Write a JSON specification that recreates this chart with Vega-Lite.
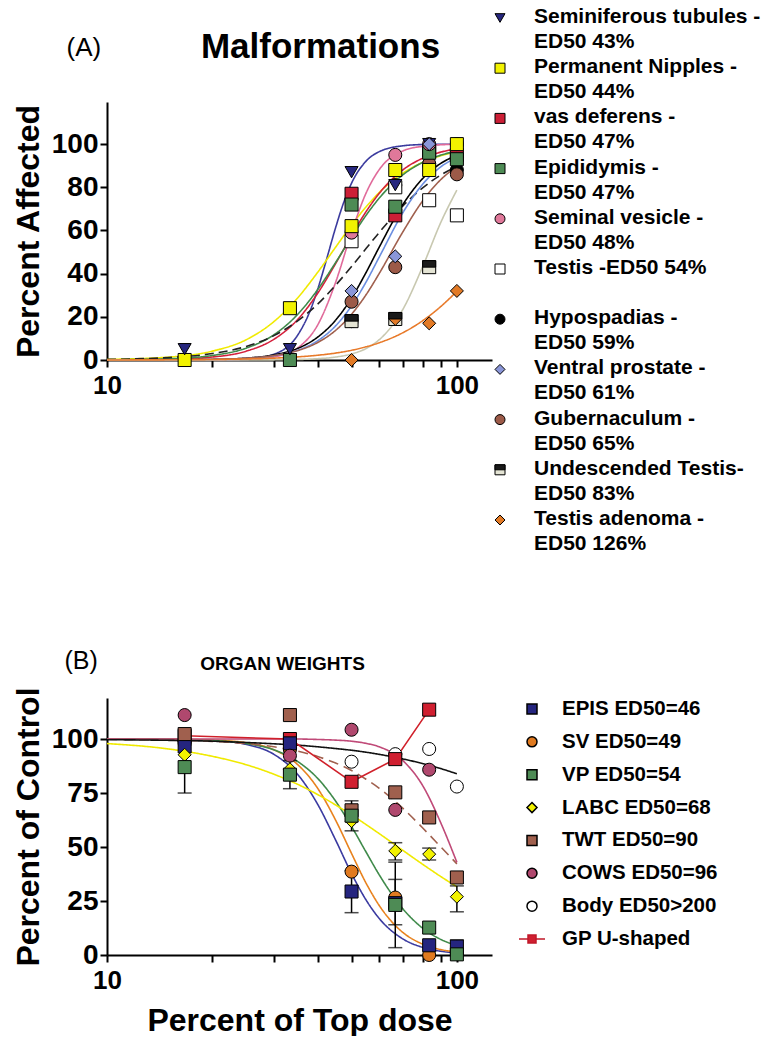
{
  "$schema": "https://vega.github.io/schema/vega-lite/v6.json",
  "background": "white",
  "padding": {"left": 12, "top": 6, "right": 0, "bottom": 0},
  "spacing": 94,
  "resolve": {
    "scale": {"shape": "independent", "fill": "independent", "stroke": "independent", "strokeDash": "independent", "x": "independent", "y": "independent"}
  },
  "config": {
    "view": {"stroke": null},
    "font": "Liberation Sans",
    "axis": {"domainColor": "black", "domainWidth": 2, "tickColor": "black", "tickWidth": 2, "tickSize": 7, "labelFont": "Liberation Sans", "labelFontWeight": "bold", "labelColor": "black", "titleFont": "Liberation Sans", "titleFontWeight": "bold", "titleColor": "black", "grid": false, "labelFlush": false, "labelOverlap": false}
  },
  "datasets": {
    "legA": [
      {"s": "Seminiferous tubules - ED50 43%", "label": "Seminiferous tubules -\nED50 43%"},
      {"s": "Permanent Nipples - ED50 44%", "label": "Permanent Nipples -\nED50 44%"},
      {"s": "vas deferens - ED50 47%", "label": "vas deferens -\nED50 47%"},
      {"s": "Epididymis - ED50 47%", "label": "Epididymis -\nED50 47%"},
      {"s": "Seminal vesicle - ED50 48%", "label": "Seminal vesicle -\nED50 48%"},
      {"s": "Testis -ED50 54%", "label": "Testis -ED50 54%"},
      {"s": "Hypospadias - ED50 59%", "label": "Hypospadias -\nED50 59%"},
      {"s": "Ventral prostate - ED50 61%", "label": "Ventral prostate -\nED50 61%"},
      {"s": "Gubernaculum - ED50 65%", "label": "Gubernaculum -\nED50 65%"},
      {"s": "Undescended Testis-ED50 83%", "label": "Undescended Testis-\nED50 83%"},
      {"s": "Testis adenoma - ED50 126%", "label": "Testis adenoma -\nED50 126%"}
    ],
    "legB": [
      {"s": "EPIS ED50=46"}, {"s": "SV ED50=49"}, {"s": "VP ED50=54"}, {"s": "LABC ED50=68"}, {"s": "TWT ED50=90"}, {"s": "COWS ED50=96"}, {"s": "Body ED50>200"}, {"s": "GP U-shaped"}
    ],
    "ptsA": [
      {"s": "Hypospadias - ED50 59%", "x": 50, "y": 18},
      {"s": "Hypospadias - ED50 59%", "x": 66.67, "y": 81},
      {"s": "Hypospadias - ED50 59%", "x": 83.33, "y": 90},
      {"s": "Hypospadias - ED50 59%", "x": 100, "y": 88},
      {"s": "Undescended Testis-ED50 83%", "x": 50, "y": 18},
      {"s": "Undescended Testis-ED50 83%", "x": 66.67, "y": 19},
      {"s": "Undescended Testis-ED50 83%", "x": 83.33, "y": 43},
      {"s": "Testis adenoma - ED50 126%", "x": 50, "y": 0},
      {"s": "Testis adenoma - ED50 126%", "x": 66.67, "y": 19},
      {"s": "Testis adenoma - ED50 126%", "x": 83.33, "y": 17},
      {"s": "Testis adenoma - ED50 126%", "x": 100, "y": 32},
      {"s": "Gubernaculum - ED50 65%", "x": 50, "y": 27},
      {"s": "Gubernaculum - ED50 65%", "x": 66.67, "y": 43},
      {"s": "Gubernaculum - ED50 65%", "x": 83.33, "y": 91},
      {"s": "Gubernaculum - ED50 65%", "x": 100, "y": 86},
      {"s": "Ventral prostate - ED50 61%", "x": 50, "y": 32},
      {"s": "Ventral prostate - ED50 61%", "x": 66.67, "y": 48},
      {"s": "Ventral prostate - ED50 61%", "x": 100, "y": 94},
      {"s": "Testis -ED50 54%", "x": 50, "y": 55},
      {"s": "Testis -ED50 54%", "x": 66.67, "y": 80},
      {"s": "Testis -ED50 54%", "x": 83.33, "y": 74},
      {"s": "Testis -ED50 54%", "x": 100, "y": 67},
      {"s": "vas deferens - ED50 47%", "x": 50, "y": 77},
      {"s": "vas deferens - ED50 47%", "x": 66.67, "y": 67},
      {"s": "vas deferens - ED50 47%", "x": 83.33, "y": 97},
      {"s": "vas deferens - ED50 47%", "x": 100, "y": 95},
      {"s": "Epididymis - ED50 47%", "x": 33.33, "y": 0},
      {"s": "Epididymis - ED50 47%", "x": 50, "y": 72},
      {"s": "Epididymis - ED50 47%", "x": 66.67, "y": 71},
      {"s": "Epididymis - ED50 47%", "x": 83.33, "y": 96},
      {"s": "Epididymis - ED50 47%", "x": 100, "y": 93},
      {"s": "Seminal vesicle - ED50 48%", "x": 50, "y": 59},
      {"s": "Seminal vesicle - ED50 48%", "x": 66.67, "y": 95},
      {"s": "Seminal vesicle - ED50 48%", "x": 83.33, "y": 100},
      {"s": "Seminal vesicle - ED50 48%", "x": 100, "y": 100},
      {"s": "Permanent Nipples - ED50 44%", "x": 16.67, "y": 0},
      {"s": "Permanent Nipples - ED50 44%", "x": 33.33, "y": 24},
      {"s": "Permanent Nipples - ED50 44%", "x": 50, "y": 62},
      {"s": "Permanent Nipples - ED50 44%", "x": 66.67, "y": 88},
      {"s": "Permanent Nipples - ED50 44%", "x": 83.33, "y": 88},
      {"s": "Permanent Nipples - ED50 44%", "x": 100, "y": 100},
      {"s": "Seminiferous tubules - ED50 43%", "x": 16.67, "y": 5},
      {"s": "Seminiferous tubules - ED50 43%", "x": 33.33, "y": 5},
      {"s": "Seminiferous tubules - ED50 43%", "x": 50, "y": 87},
      {"s": "Seminiferous tubules - ED50 43%", "x": 66.67, "y": 81},
      {"s": "Seminiferous tubules - ED50 43%", "x": 83.33, "y": 100},
      {"s": "Ventral prostate - ED50 61%", "x": 83.33, "y": 100}
    ],
    "curA": [
      {"c": "S1", "x": 10, "y": 0}, {"c": "S1", "x": 15, "y": 0}, {"c": "S1", "x": 20, "y": 0.05}, {"c": "S1", "x": 25, "y": 0.44}, {"c": "S1", "x": 30, "y": 2.7}, {"c": "S1", "x": 35, "y": 11.3}, {"c": "S1", "x": 38, "y": 22.5}, {"c": "S1", "x": 40, "y": 32.7}, {"c": "S1", "x": 42, "y": 44.2}, {"c": "S1", "x": 45, "y": 61.2}, {"c": "S1", "x": 47, "y": 70.9}, {"c": "S1", "x": 50, "y": 81.9}, {"c": "S1", "x": 55, "y": 92.1}, {"c": "S1", "x": 60, "y": 96.5}, {"c": "S1", "x": 70, "y": 99.2}, {"c": "S1", "x": 80, "y": 99.8}, {"c": "S1", "x": 90, "y": 99.9}, {"c": "S1", "x": 100, "y": 100},
      {"c": "S2", "x": 10, "y": 0.27}, {"c": "S2", "x": 15, "y": 1.33}, {"c": "S2", "x": 20, "y": 4.1}, {"c": "S2", "x": 25, "y": 9.4}, {"c": "S2", "x": 30, "y": 17.8}, {"c": "S2", "x": 35, "y": 28.6}, {"c": "S2", "x": 40, "y": 40.6}, {"c": "S2", "x": 45, "y": 52.2}, {"c": "S2", "x": 50, "y": 62.5}, {"c": "S2", "x": 55, "y": 70.9}, {"c": "S2", "x": 60, "y": 77.6}, {"c": "S2", "x": 70, "y": 86.5}, {"c": "S2", "x": 80, "y": 91.6}, {"c": "S2", "x": 90, "y": 94.6}, {"c": "S2", "x": 100, "y": 96.4},
      {"c": "S3", "x": 10, "y": 0.04}, {"c": "S3", "x": 15, "y": 0.33}, {"c": "S3", "x": 20, "y": 1.38}, {"c": "S3", "x": 25, "y": 4.1}, {"c": "S3", "x": 30, "y": 9.6}, {"c": "S3", "x": 35, "y": 18.6}, {"c": "S3", "x": 40, "y": 30.9}, {"c": "S3", "x": 45, "y": 44.6}, {"c": "S3", "x": 50, "y": 57.7}, {"c": "S3", "x": 55, "y": 68.7}, {"c": "S3", "x": 60, "y": 77.2}, {"c": "S3", "x": 70, "y": 88.0}, {"c": "S3", "x": 80, "y": 93.5}, {"c": "S3", "x": 90, "y": 96.3}, {"c": "S3", "x": 100, "y": 97.8},
      {"c": "S4", "x": 10, "y": 0.09}, {"c": "S4", "x": 15, "y": 0.58}, {"c": "S4", "x": 20, "y": 2.1}, {"c": "S4", "x": 25, "y": 5.5}, {"c": "S4", "x": 30, "y": 11.7}, {"c": "S4", "x": 35, "y": 21.0}, {"c": "S4", "x": 40, "y": 32.6}, {"c": "S4", "x": 45, "y": 45.1}, {"c": "S4", "x": 50, "y": 56.9}, {"c": "S4", "x": 55, "y": 67.0}, {"c": "S4", "x": 60, "y": 75.0}, {"c": "S4", "x": 70, "y": 85.7}, {"c": "S4", "x": 80, "y": 91.6}, {"c": "S4", "x": 90, "y": 94.9}, {"c": "S4", "x": 100, "y": 96.8},
      {"c": "S5", "x": 10, "y": 0}, {"c": "S5", "x": 15, "y": 0}, {"c": "S5", "x": 20, "y": 0.04}, {"c": "S5", "x": 25, "y": 0.28}, {"c": "S5", "x": 30, "y": 1.43}, {"c": "S5", "x": 35, "y": 5.5}, {"c": "S5", "x": 40, "y": 16.2}, {"c": "S5", "x": 45, "y": 35.9}, {"c": "S5", "x": 50, "y": 59.1}, {"c": "S5", "x": 55, "y": 77.3}, {"c": "S5", "x": 60, "y": 88.2}, {"c": "S5", "x": 70, "y": 96.8}, {"c": "S5", "x": 80, "y": 99.0}, {"c": "S5", "x": 90, "y": 99.7}, {"c": "S5", "x": 100, "y": 99.9},
      {"c": "S6", "x": 10, "y": 0.27}, {"c": "S6", "x": 15, "y": 1.12}, {"c": "S6", "x": 20, "y": 3.0}, {"c": "S6", "x": 25, "y": 6.3}, {"c": "S6", "x": 30, "y": 11.3}, {"c": "S6", "x": 35, "y": 18.0}, {"c": "S6", "x": 40, "y": 25.9}, {"c": "S6", "x": 45, "y": 34.6}, {"c": "S6", "x": 50, "y": 43.3}, {"c": "S6", "x": 55, "y": 51.6}, {"c": "S6", "x": 60, "y": 59.1}, {"c": "S6", "x": 70, "y": 71.3}, {"c": "S6", "x": 80, "y": 79.8}, {"c": "S6", "x": 90, "y": 85.7}, {"c": "S6", "x": 100, "y": 89.6},
      {"c": "S7", "x": 10, "y": 0}, {"c": "S7", "x": 15, "y": 0.05}, {"c": "S7", "x": 20, "y": 0.26}, {"c": "S7", "x": 25, "y": 0.88}, {"c": "S7", "x": 30, "y": 2.4}, {"c": "S7", "x": 35, "y": 5.3}, {"c": "S7", "x": 40, "y": 10.6}, {"c": "S7", "x": 45, "y": 18.4}, {"c": "S7", "x": 50, "y": 28.7}, {"c": "S7", "x": 55, "y": 40.5}, {"c": "S7", "x": 60, "y": 52.3}, {"c": "S7", "x": 70, "y": 71.9}, {"c": "S7", "x": 80, "y": 84.2}, {"c": "S7", "x": 90, "y": 91.1}, {"c": "S7", "x": 100, "y": 94.8},
      {"c": "S8", "x": 10, "y": 0}, {"c": "S8", "x": 15, "y": 0.04}, {"c": "S8", "x": 20, "y": 0.22}, {"c": "S8", "x": 25, "y": 0.74}, {"c": "S8", "x": 30, "y": 2.0}, {"c": "S8", "x": 35, "y": 4.5}, {"c": "S8", "x": 40, "y": 8.9}, {"c": "S8", "x": 45, "y": 15.8}, {"c": "S8", "x": 50, "y": 25.1}, {"c": "S8", "x": 55, "y": 36.1}, {"c": "S8", "x": 60, "y": 47.7}, {"c": "S8", "x": 70, "y": 68.1}, {"c": "S8", "x": 80, "y": 81.6}, {"c": "S8", "x": 90, "y": 89.5}, {"c": "S8", "x": 100, "y": 93.8},
      {"c": "S9", "x": 10, "y": 0}, {"c": "S9", "x": 15, "y": 0.07}, {"c": "S9", "x": 20, "y": 0.28}, {"c": "S9", "x": 25, "y": 0.83}, {"c": "S9", "x": 30, "y": 2.05}, {"c": "S9", "x": 35, "y": 4.3}, {"c": "S9", "x": 40, "y": 8.1}, {"c": "S9", "x": 45, "y": 13.7}, {"c": "S9", "x": 50, "y": 21.2}, {"c": "S9", "x": 55, "y": 30.2}, {"c": "S9", "x": 60, "y": 40.1}, {"c": "S9", "x": 70, "y": 59.2}, {"c": "S9", "x": 80, "y": 73.9}, {"c": "S9", "x": 90, "y": 83.6}, {"c": "S9", "x": 100, "y": 89.6},
      {"c": "S10", "x": 10, "y": 0}, {"c": "S10", "x": 15, "y": 0}, {"c": "S10", "x": 20, "y": 0}, {"c": "S10", "x": 25, "y": 0}, {"c": "S10", "x": 30, "y": 0.08}, {"c": "S10", "x": 35, "y": 0.24}, {"c": "S10", "x": 40, "y": 0.6}, {"c": "S10", "x": 45, "y": 1.36}, {"c": "S10", "x": 50, "y": 2.8}, {"c": "S10", "x": 55, "y": 5.3}, {"c": "S10", "x": 60, "y": 9.4}, {"c": "S10", "x": 70, "y": 23.3}, {"c": "S10", "x": 80, "y": 43.6}, {"c": "S10", "x": 90, "y": 63.8}, {"c": "S10", "x": 100, "y": 78.7},
      {"c": "S11", "x": 10, "y": 0.02}, {"c": "S11", "x": 15, "y": 0.09}, {"c": "S11", "x": 20, "y": 0.23}, {"c": "S11", "x": 25, "y": 0.48}, {"c": "S11", "x": 30, "y": 0.87}, {"c": "S11", "x": 35, "y": 1.44}, {"c": "S11", "x": 40, "y": 2.2}, {"c": "S11", "x": 45, "y": 3.2}, {"c": "S11", "x": 50, "y": 4.5}, {"c": "S11", "x": 55, "y": 6.1}, {"c": "S11", "x": 60, "y": 8.0}, {"c": "S11", "x": 70, "y": 12.6}, {"c": "S11", "x": 80, "y": 18.3}, {"c": "S11", "x": 90, "y": 24.8}, {"c": "S11", "x": 100, "y": 31.8}
    ],
    "ptsB": [
      {"s": "Body ED50>200", "x": 16.67, "y": 99}, {"s": "Body ED50>200", "x": 33.33, "y": 99}, {"s": "Body ED50>200", "x": 50, "y": 89.5}, {"s": "Body ED50>200", "x": 66.67, "y": 93}, {"s": "Body ED50>200", "x": 83.33, "y": 95.4}, {"s": "Body ED50>200", "x": 100, "y": 78},
      {"s": "SV ED50=49", "x": 16.67, "y": 98}, {"s": "SV ED50=49", "x": 33.33, "y": 95}, {"s": "SV ED50=49", "x": 50, "y": 38.6}, {"s": "SV ED50=49", "x": 66.67, "y": 26.6}, {"s": "SV ED50=49", "x": 83.33, "y": 0}, {"s": "SV ED50=49", "x": 100, "y": 1},
      {"s": "GP U-shaped", "x": 16.67, "y": 101.5}, {"s": "GP U-shaped", "x": 33.33, "y": 100}, {"s": "GP U-shaped", "x": 50, "y": 80.2}, {"s": "GP U-shaped", "x": 66.67, "y": 90.7}, {"s": "GP U-shaped", "x": 83.33, "y": 113.6},
      {"s": "EPIS ED50=46", "x": 16.67, "y": 96.6}, {"s": "EPIS ED50=46", "x": 33.33, "y": 98}, {"s": "EPIS ED50=46", "x": 50, "y": 29.4}, {"s": "EPIS ED50=46", "x": 66.67, "y": 24}, {"s": "EPIS ED50=46", "x": 83.33, "y": 4.5}, {"s": "EPIS ED50=46", "x": 100, "y": 3.9},
      {"s": "TWT ED50=90", "x": 16.67, "y": 102.3}, {"s": "TWT ED50=90", "x": 33.33, "y": 111.1}, {"s": "TWT ED50=90", "x": 50, "y": 67}, {"s": "TWT ED50=90", "x": 66.67, "y": 75.3}, {"s": "TWT ED50=90", "x": 83.33, "y": 63.7}, {"s": "TWT ED50=90", "x": 100, "y": 35.9},
      {"s": "COWS ED50=96", "x": 16.67, "y": 111.1}, {"s": "COWS ED50=96", "x": 33.33, "y": 92.3}, {"s": "COWS ED50=96", "x": 50, "y": 104.3}, {"s": "COWS ED50=96", "x": 66.67, "y": 67.2}, {"s": "COWS ED50=96", "x": 83.33, "y": 85.8},
      {"s": "LABC ED50=68", "x": 16.67, "y": 92.7}, {"s": "LABC ED50=68", "x": 33.33, "y": 86}, {"s": "LABC ED50=68", "x": 50, "y": 62}, {"s": "LABC ED50=68", "x": 66.67, "y": 48.2}, {"s": "LABC ED50=68", "x": 83.33, "y": 46.7}, {"s": "LABC ED50=68", "x": 100, "y": 27},
      {"s": "VP ED50=54", "x": 16.67, "y": 87}, {"s": "VP ED50=54", "x": 33.33, "y": 83.5}, {"s": "VP ED50=54", "x": 50, "y": 64.5}, {"s": "VP ED50=54", "x": 66.67, "y": 23.2}, {"s": "VP ED50=54", "x": 83.33, "y": 12.7}, {"s": "VP ED50=54", "x": 100, "y": 0.3}
    ],
    "errB": [
      {"x": 16.67, "lo": 75, "hi": 99}, {"x": 33.33, "lo": 77, "hi": 90}, {"x": 50, "lo": 19.6, "hi": 39}, {"x": 50, "lo": 57.5, "hi": 71.4}, {"x": 66.67, "lo": 3.4, "hi": 43}, {"x": 66.67, "lo": 14, "hi": 35}, {"x": 66.67, "lo": 44, "hi": 52}, {"x": 83.33, "lo": 44, "hi": 49.5}, {"x": 100, "lo": 20, "hi": 32}, {"x": 100, "lo": 0, "hi": 7}
    ],
    "curB": [
      {"c": "E", "x": 10, "y": 100}, {"c": "E", "x": 15, "y": 99.9}, {"c": "E", "x": 20, "y": 99.3}, {"c": "E", "x": 25, "y": 97.5}, {"c": "E", "x": 30, "y": 92.9}, {"c": "E", "x": 35, "y": 83.8}, {"c": "E", "x": 40, "y": 69.8}, {"c": "E", "x": 45, "y": 53.3}, {"c": "E", "x": 50, "y": 37.7}, {"c": "E", "x": 55, "y": 25.5}, {"c": "E", "x": 60, "y": 16.9}, {"c": "E", "x": 70, "y": 7.5}, {"c": "E", "x": 80, "y": 3.5}, {"c": "E", "x": 90, "y": 1.75}, {"c": "E", "x": 100, "y": 0.94},
      {"c": "SV", "x": 10, "y": 100}, {"c": "SV", "x": 15, "y": 99.9}, {"c": "SV", "x": 20, "y": 99.5}, {"c": "SV", "x": 25, "y": 98.3}, {"c": "SV", "x": 30, "y": 95.0}, {"c": "SV", "x": 35, "y": 88.3}, {"c": "SV", "x": 40, "y": 77.2}, {"c": "SV", "x": 45, "y": 62.5}, {"c": "SV", "x": 50, "y": 47.0}, {"c": "SV", "x": 55, "y": 33.3}, {"c": "SV", "x": 60, "y": 22.9}, {"c": "SV", "x": 70, "y": 10.5}, {"c": "SV", "x": 80, "y": 5.0}, {"c": "SV", "x": 90, "y": 2.5}, {"c": "SV", "x": 100, "y": 1.4},
      {"c": "VP", "x": 10, "y": 100}, {"c": "VP", "x": 15, "y": 99.8}, {"c": "VP", "x": 20, "y": 99.3}, {"c": "VP", "x": 25, "y": 97.9}, {"c": "VP", "x": 30, "y": 95.0}, {"c": "VP", "x": 35, "y": 89.7}, {"c": "VP", "x": 40, "y": 81.8}, {"c": "VP", "x": 45, "y": 71.3}, {"c": "VP", "x": 50, "y": 59.5}, {"c": "VP", "x": 55, "y": 47.7}, {"c": "VP", "x": 60, "y": 37.1}, {"c": "VP", "x": 70, "y": 21.5}, {"c": "VP", "x": 80, "y": 12.3}, {"c": "VP", "x": 90, "y": 7.2}, {"c": "VP", "x": 100, "y": 4.4},
      {"c": "LA", "x": 10, "y": 97.9}, {"c": "LA", "x": 15, "y": 95.4}, {"c": "LA", "x": 20, "y": 92.0}, {"c": "LA", "x": 25, "y": 88.1}, {"c": "LA", "x": 30, "y": 83.7}, {"c": "LA", "x": 35, "y": 79.1}, {"c": "LA", "x": 40, "y": 74.3}, {"c": "LA", "x": 45, "y": 69.5}, {"c": "LA", "x": 50, "y": 64.9}, {"c": "LA", "x": 55, "y": 60.4}, {"c": "LA", "x": 60, "y": 56.2}, {"c": "LA", "x": 70, "y": 48.5}, {"c": "LA", "x": 80, "y": 41.9}, {"c": "LA", "x": 90, "y": 36.3}, {"c": "LA", "x": 100, "y": 31.6},
      {"c": "TW", "x": 10, "y": 99.9}, {"c": "TW", "x": 15, "y": 99.5}, {"c": "TW", "x": 20, "y": 98.9}, {"c": "TW", "x": 25, "y": 97.9}, {"c": "TW", "x": 30, "y": 96.4}, {"c": "TW", "x": 35, "y": 94.4}, {"c": "TW", "x": 40, "y": 91.9}, {"c": "TW", "x": 45, "y": 88.9}, {"c": "TW", "x": 50, "y": 85.4}, {"c": "TW", "x": 55, "y": 81.4}, {"c": "TW", "x": 60, "y": 77.2}, {"c": "TW", "x": 70, "y": 68.0}, {"c": "TW", "x": 80, "y": 58.7}, {"c": "TW", "x": 90, "y": 50.0}, {"c": "TW", "x": 100, "y": 42.2},
      {"c": "CO", "x": 10, "y": 100}, {"c": "CO", "x": 15, "y": 100}, {"c": "CO", "x": 20, "y": 100}, {"c": "CO", "x": 25, "y": 100}, {"c": "CO", "x": 30, "y": 100}, {"c": "CO", "x": 35, "y": 100}, {"c": "CO", "x": 40, "y": 99.8}, {"c": "CO", "x": 45, "y": 99.5}, {"c": "CO", "x": 50, "y": 99.0}, {"c": "CO", "x": 55, "y": 98.0}, {"c": "CO", "x": 60, "y": 96.4}, {"c": "CO", "x": 70, "y": 90.1}, {"c": "CO", "x": 80, "y": 78.2}, {"c": "CO", "x": 90, "y": 61.1}, {"c": "CO", "x": 100, "y": 42.9},
      {"c": "BO", "x": 10, "y": 99.7}, {"c": "BO", "x": 15, "y": 99.4}, {"c": "BO", "x": 20, "y": 99.0}, {"c": "BO", "x": 25, "y": 98.4}, {"c": "BO", "x": 30, "y": 97.8}, {"c": "BO", "x": 35, "y": 97.2}, {"c": "BO", "x": 40, "y": 96.4}, {"c": "BO", "x": 45, "y": 95.6}, {"c": "BO", "x": 50, "y": 94.8}, {"c": "BO", "x": 55, "y": 93.9}, {"c": "BO", "x": 60, "y": 92.9}, {"c": "BO", "x": 70, "y": 90.8}, {"c": "BO", "x": 80, "y": 88.6}, {"c": "BO", "x": 90, "y": 86.3}, {"c": "BO", "x": 100, "y": 83.9}
    ]
  },
  "vconcat": [
    {
      "hconcat": [
        {
          "width": 385,
          "height": 258,
          "resolve": {"axis": {"x": "independent", "y": "independent"}},
          "layer": [
            {
              "data": {"name": "curA"},
              "mark": {"type": "line", "interpolate": "monotone", "strokeWidth": 1.6},
              "encoding": {
                "x": {"field": "x", "type": "quantitative", "scale": {"type": "log", "domain": [10, 126], "nice": false},
                  "axis": {"orient": "top", "title": "Malformations", "titleFontSize": 35, "titleFontWeight": "bold", "domain": false, "ticks": false, "labels": false, "titleX": 213, "titleY": -45, "titleAlign": "center", "titleBaseline": "alphabetic", "titleAngle": 0}},
                "y": {"field": "y", "type": "quantitative", "scale": {"domain": [0, 119.5], "nice": false},
                  "axis": {"orient": "right", "title": "(A)", "titleFontSize": 26, "titleFontWeight": "normal", "domain": false, "ticks": false, "labels": false, "titleX": -426, "titleY": -55, "titleAlign": "left", "titleBaseline": "middle", "titleAngle": 0}},
                "stroke": {"field": "c", "type": "nominal", "legend": null,
                  "scale": {"domain": ["S1", "S2", "S3", "S4", "S5", "S6", "S7", "S8", "S9", "S10", "S11"],
                    "range": ["#3b3b9e", "#f0ea00", "#d4203c", "#3f8a4a", "#e06a9a", "#222222", "#000000", "#6b8ee0", "#a0604e", "#c8c8b0", "#e87a2a"]}},
                "strokeDash": {"field": "c", "type": "nominal", "legend": null,
                  "scale": {"domain": ["S1", "S2", "S3", "S4", "S5", "S6", "S7", "S8", "S9", "S10", "S11"],
                    "range": [[1, 0], [1, 0], [1, 0], [1, 0], [1, 0], [9, 5], [1, 0], [1, 0], [1, 0], [1, 0], [1, 0]]}}
              }
            },
            {
              "data": {"name": "ptsA"},
              "mark": {"type": "point", "filled": true, "size": 170, "stroke": "black", "strokeWidth": 1, "opacity": 1},
              "encoding": {
                "x": {"field": "x", "type": "quantitative", "scale": {"type": "log", "domain": [10, 126], "nice": false},
                  "axis": {"orient": "bottom", "values": [10, 20, 30, 40, 50, 60, 70, 80, 90, 100], "format": "d", "labelExpr": "datum.value == 10 || datum.value == 100 ? datum.label : ''", "title": null, "labelFontSize": 26, "labelPadding": 5}},
                "y": {"field": "y", "type": "quantitative", "scale": {"domain": [0, 119.5], "nice": false},
                  "axis": {"orient": "left", "values": [0, 20, 40, 60, 80, 100], "title": "Percent Affected", "titleFontSize": 32, "titlePadding": 6, "labelFontSize": 28, "labelPadding": 2}},
                "shape": {"field": "s", "type": "nominal", "legend": null,
                  "scale": {"domain": ["Seminiferous tubules - ED50 43%", "Permanent Nipples - ED50 44%", "vas deferens - ED50 47%", "Epididymis - ED50 47%", "Seminal vesicle - ED50 48%", "Testis -ED50 54%", "Hypospadias - ED50 59%", "Ventral prostate - ED50 61%", "Gubernaculum - ED50 65%", "Undescended Testis-ED50 83%", "Testis adenoma - ED50 126%"],
                    "range": ["triangle-down", "square", "square", "square", "circle", "square", "circle", "diamond", "circle", "square", "diamond"]}},
                "fill": {"field": "s", "type": "nominal", "legend": null,
                  "scale": {"domain": ["Seminiferous tubules - ED50 43%", "Permanent Nipples - ED50 44%", "vas deferens - ED50 47%", "Epididymis - ED50 47%", "Seminal vesicle - ED50 48%", "Testis -ED50 54%", "Hypospadias - ED50 59%", "Ventral prostate - ED50 61%", "Gubernaculum - ED50 65%", "Undescended Testis-ED50 83%", "Testis adenoma - ED50 126%"],
                    "range": ["#27277f", "#f2f200", "#cc1f36", "#4e8b55", "#e0789a", "#ffffff", "#000000", "#8a96d8", "#9c5a48", "#e4e4d4", "#e27a26"]}}
              }
            },
            {
              "data": {"name": "ptsA"},
              "transform": [{"filter": "datum.s == 'Undescended Testis-ED50 83%'"}],
              "mark": {"type": "point", "filled": true, "size": 170, "shape": "M-1,-1H1V0H-1Z", "fill": "#1a1a1a", "stroke": "black", "strokeWidth": 1, "opacity": 1},
              "encoding": {
                "x": {"field": "x", "type": "quantitative", "axis": null},
                "y": {"field": "y", "type": "quantitative", "axis": null}
              }
            }
          ]
        },
        {
          "width": 12,
          "height": 258,
          "data": {"name": "legA"},
          "encoding": {
            "y": {"field": "s", "type": "nominal", "axis": null,
              "scale": {"type": "point", "padding": 0, "range": [-84, 418],
                "domain": ["Seminiferous tubules - ED50 43%", "Permanent Nipples - ED50 44%", "vas deferens - ED50 47%", "Epididymis - ED50 47%", "Seminal vesicle - ED50 48%", "Testis -ED50 54%", "Hypospadias - ED50 59%", "Ventral prostate - ED50 61%", "Gubernaculum - ED50 65%", "Undescended Testis-ED50 83%", "Testis adenoma - ED50 126%"]}}
          },
          "layer": [
            {
              "mark": {"type": "point", "filled": true, "size": 100, "stroke": "black", "strokeWidth": 1, "opacity": 1},
              "encoding": {
                "shape": {"field": "s", "type": "nominal", "legend": null,
                  "scale": {"domain": ["Seminiferous tubules - ED50 43%", "Permanent Nipples - ED50 44%", "vas deferens - ED50 47%", "Epididymis - ED50 47%", "Seminal vesicle - ED50 48%", "Testis -ED50 54%", "Hypospadias - ED50 59%", "Ventral prostate - ED50 61%", "Gubernaculum - ED50 65%", "Undescended Testis-ED50 83%", "Testis adenoma - ED50 126%"],
                    "range": ["triangle-down", "square", "square", "square", "circle", "square", "circle", "diamond", "circle", "square", "diamond"]}},
                "fill": {"field": "s", "type": "nominal", "legend": null,
                  "scale": {"domain": ["Seminiferous tubules - ED50 43%", "Permanent Nipples - ED50 44%", "vas deferens - ED50 47%", "Epididymis - ED50 47%", "Seminal vesicle - ED50 48%", "Testis -ED50 54%", "Hypospadias - ED50 59%", "Ventral prostate - ED50 61%", "Gubernaculum - ED50 65%", "Undescended Testis-ED50 83%", "Testis adenoma - ED50 126%"],
                    "range": ["#27277f", "#f2f200", "#cc1f36", "#4e8b55", "#e0789a", "#ffffff", "#000000", "#8a96d8", "#9c5a48", "#e4e4d4", "#e27a26"]}}
              }
            },
            {
              "transform": [{"filter": "datum.s == 'Undescended Testis-ED50 83%'"}],
              "mark": {"type": "point", "filled": true, "size": 100, "shape": "M-1,-1H1V0H-1Z", "fill": "#1a1a1a", "stroke": "black", "strokeWidth": 1, "opacity": 1}
            },
            {
              "mark": {"type": "text", "align": "left", "baseline": "top", "dx": 34, "dy": -12, "lineBreak": "\n", "lineHeight": 25, "font": "Liberation Sans", "fontSize": 21, "fontWeight": "bold", "color": "black"},
              "encoding": {"text": {"field": "label"}}
            }
          ]
        }
      ],
      "spacing": 2,
      "bounds": "flush",
      "resolve": {"scale": {"x": "independent", "y": "independent", "shape": "independent", "fill": "independent", "stroke": "independent", "strokeDash": "independent"}}
    },
    {
      "hconcat": [
        {
          "width": 385,
          "height": 257,
          "resolve": {"axis": {"x": "independent", "y": "independent"}},
          "layer": [
            {
              "data": {"name": "curB"},
              "mark": {"type": "line", "interpolate": "monotone", "strokeWidth": 1.6},
              "encoding": {
                "x": {"field": "x", "type": "quantitative", "scale": {"type": "log", "domain": [10, 126], "nice": false},
                  "axis": {"orient": "top", "title": "ORGAN WEIGHTS", "titleFontSize": 19, "titleFontWeight": "bold", "domain": false, "ticks": false, "labels": false, "titleX": 175, "titleY": -29, "titleAlign": "center", "titleBaseline": "alphabetic", "titleAngle": 0}},
                "y": {"field": "y", "type": "quantitative", "scale": {"domain": [0, 119], "nice": false},
                  "axis": {"orient": "right", "title": "(B)", "titleFontSize": 25, "titleFontWeight": "normal", "domain": false, "ticks": false, "labels": false, "titleX": -428, "titleY": -38, "titleAlign": "left", "titleBaseline": "middle", "titleAngle": 0}},
                "stroke": {"field": "c", "type": "nominal", "legend": null,
                  "scale": {"domain": ["E", "SV", "VP", "LA", "TW", "CO", "BO"],
                    "range": ["#3a3aa0", "#e8821e", "#3f8a4a", "#f0ea00", "#a0604e", "#c04a78", "#111111"]}},
                "strokeDash": {"field": "c", "type": "nominal", "legend": null,
                  "scale": {"domain": ["E", "SV", "VP", "LA", "TW", "CO", "BO"],
                    "range": [[1, 0], [1, 0], [1, 0], [1, 0], [10, 6], [1, 0], [1, 0]]}}
              }
            },
            {
              "data": {"name": "errB"},
              "mark": {"type": "errorbar", "color": "black", "ticks": {"size": 14, "thickness": 1.5, "color": "black"}, "rule": {"strokeWidth": 1.5, "color": "black"}},
              "encoding": {
                "x": {"field": "x", "type": "quantitative", "axis": null},
                "y": {"field": "lo", "type": "quantitative", "axis": null},
                "y2": {"field": "hi"}
              }
            },
            {
              "data": {"name": "ptsB"},
              "transform": [{"filter": "datum.s == 'GP U-shaped'"}],
              "mark": {"type": "line", "color": "#d0202a", "strokeWidth": 1.6},
              "encoding": {
                "x": {"field": "x", "type": "quantitative", "axis": null},
                "y": {"field": "y", "type": "quantitative", "axis": null}
              }
            },
            {
              "data": {"name": "ptsB"},
              "mark": {"type": "point", "filled": true, "size": 170, "stroke": "black", "strokeWidth": 1, "opacity": 1},
              "encoding": {
                "x": {"field": "x", "type": "quantitative", "scale": {"type": "log", "domain": [10, 126], "nice": false},
                  "axis": {"orient": "bottom", "values": [10, 20, 30, 40, 50, 60, 70, 80, 90, 100], "format": "d", "labelExpr": "datum.value == 10 || datum.value == 100 ? datum.label : ''", "title": "Percent of Top dose", "titleFontSize": 32, "titlePadding": 12, "labelFontSize": 26, "labelPadding": 5}},
                "y": {"field": "y", "type": "quantitative", "scale": {"domain": [0, 119], "nice": false},
                  "axis": {"orient": "left", "values": [0, 25, 50, 75, 100], "title": "Percent of Control", "titleFontSize": 32, "titlePadding": 6, "labelFontSize": 28, "labelPadding": 2}},
                "shape": {"field": "s", "type": "nominal", "legend": null,
                  "scale": {"domain": ["EPIS ED50=46", "SV ED50=49", "VP ED50=54", "LABC ED50=68", "TWT ED50=90", "COWS ED50=96", "Body ED50>200", "GP U-shaped"],
                    "range": ["square", "circle", "square", "diamond", "square", "circle", "circle", "square"]}},
                "fill": {"field": "s", "type": "nominal", "legend": null,
                  "scale": {"domain": ["EPIS ED50=46", "SV ED50=49", "VP ED50=54", "LABC ED50=68", "TWT ED50=90", "COWS ED50=96", "Body ED50>200", "GP U-shaped"],
                    "range": ["#25257f", "#e07a20", "#4e8b55", "#f2f200", "#a0604e", "#b0486e", "#ffffff", "#d01f30"]}}
              }
            }
          ]
        },
        {
          "width": 12,
          "height": 257,
          "data": {"name": "legB"},
          "encoding": {
            "y": {"field": "s", "type": "nominal", "axis": null,
              "scale": {"type": "point", "padding": 0, "range": [11, 241],
                "domain": ["EPIS ED50=46", "SV ED50=49", "VP ED50=54", "LABC ED50=68", "TWT ED50=90", "COWS ED50=96", "Body ED50>200", "GP U-shaped"]}}
          },
          "layer": [
            {
              "mark": {"type": "point", "filled": true, "size": 100, "strokeWidth": 1.5, "opacity": 1},
              "encoding": {
                "shape": {"field": "s", "type": "nominal", "legend": null,
                  "scale": {"domain": ["EPIS ED50=46", "SV ED50=49", "VP ED50=54", "LABC ED50=68", "TWT ED50=90", "COWS ED50=96", "Body ED50>200", "GP U-shaped"],
                    "range": ["square", "circle", "square", "diamond", "square", "circle", "circle", "M-2.6,0H-0.8M0.8,0H2.6M-0.8,-0.8H0.8V0.8H-0.8Z"]}},
                "fill": {"field": "s", "type": "nominal", "legend": null,
                  "scale": {"domain": ["EPIS ED50=46", "SV ED50=49", "VP ED50=54", "LABC ED50=68", "TWT ED50=90", "COWS ED50=96", "Body ED50>200", "GP U-shaped"],
                    "range": ["#25257f", "#e07a20", "#4e8b55", "#f2f200", "#a0604e", "#b0486e", "#ffffff", "#d01f30"]}},
                "stroke": {"field": "s", "type": "nominal", "legend": null,
                  "scale": {"domain": ["EPIS ED50=46", "SV ED50=49", "VP ED50=54", "LABC ED50=68", "TWT ED50=90", "COWS ED50=96", "Body ED50>200", "GP U-shaped"],
                    "range": ["#000000", "#000000", "#000000", "#000000", "#000000", "#000000", "#000000", "#c01828"]}}
              }
            },
            {
              "mark": {"type": "text", "align": "left", "baseline": "middle", "dx": 30, "font": "Liberation Sans", "fontSize": 20.5, "fontWeight": "bold", "color": "black"},
              "encoding": {"text": {"field": "s"}}
            }
          ]
        }
      ],
      "spacing": 34,
      "bounds": "flush",
      "resolve": {"scale": {"x": "independent", "y": "independent", "shape": "independent", "fill": "independent", "stroke": "independent", "strokeDash": "independent"}}
    }
  ]
}
